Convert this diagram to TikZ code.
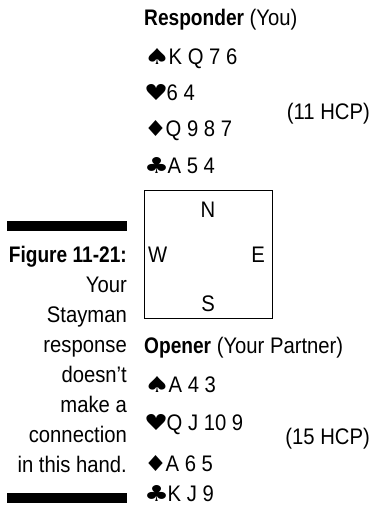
\documentclass[tikz,border=0pt]{standalone}
\usepackage{fontspec}
\usepackage{graphicx}
\setmainfont{Liberation Sans}[FakeStretch=0.9, BoldFeatures={FakeStretch=0.85}]
\newfontfamily\suitfont{DejaVu Sans}
\newcommand{\st}[2]{\resizebox{#2}{16pt}{\suitfont #1}\hspace{-1.5pt}}
\tikzset{
  txt/.style={inner sep=0pt, font=\fontsize{22.5}{27}\selectfont},
  hand/.style={txt, anchor=base west},
  captxt/.style={txt, anchor=base east},
  hcp/.style={txt, anchor=base east},
  bar/.style={fill=black, inner sep=0pt, minimum width=120pt, minimum height=10pt},
  compass/.style={draw=black, line width=0.9pt, inner sep=0pt, minimum width=128pt, minimum height=128pt}
}
\begin{document}
\begin{tikzpicture}[x=1pt,y=-1pt]
\useasboundingbox (0,0) rectangle (372,505);
% responder hand
\node[hand] (resp) at (144,26) {\textbf{Responder} (You)};
\node[hand] (rs) at (144,65) {\st{♠}{26pt}K Q 7 6};
\node[hand] (rh) at (144,101) {\st{♥}{24pt}6 4};
\node[hand] (rd) at (144,137) {\st{♦}{23pt}Q 9 8 7};
\node[hand] (rc) at (144,173) {\st{♣}{25pt}A 5 4};
\node[hcp] (rhcp) at (370,120) {(11 HCP)};
% compass box
\node[compass] (box) at (208,254) {};
\node[txt, anchor=base] (n) at (208,217) {N};
\node[txt, anchor=base west] (w) at (148,262) {W};
\node[txt, anchor=base east] (e) at (265,262) {E};
\node[txt, anchor=base] (s) at (208,311) {S};
% opener hand
\node[hand] (open) at (144,353) {\textbf{Opener} (Your Partner)};
\node[hand] (os) at (144,392) {\st{♠}{26pt}A 4 3};
\node[hand] (oh) at (144,430) {\st{♥}{24pt}Q J 10 9};
\node[hand] (od) at (144,471) {\st{♦}{23pt}A 6 5};
\node[hand] (oc) at (144,501) {\st{♣}{25pt}K J 9};
\node[hcp] (ohcp) at (370,444) {(15 HCP)};
% caption
\node[bar] (topbar) at (67,226) {};
\node[captxt] (c1) at (127,262) {\textbf{Figure 11-21:}};
\node[captxt] (c2) at (127,292) {Your};
\node[captxt] (c3) at (127,322) {Stayman};
\node[captxt] (c4) at (127,352) {response};
\node[captxt] (c5) at (127,382) {doesn’t};
\node[captxt] (c6) at (127,412) {make a};
\node[captxt] (c7) at (127,442) {connection};
\node[captxt] (c8) at (127,472) {in this hand.};
\node[bar] (botbar) at (67,498) {};
\end{tikzpicture}
\end{document}
